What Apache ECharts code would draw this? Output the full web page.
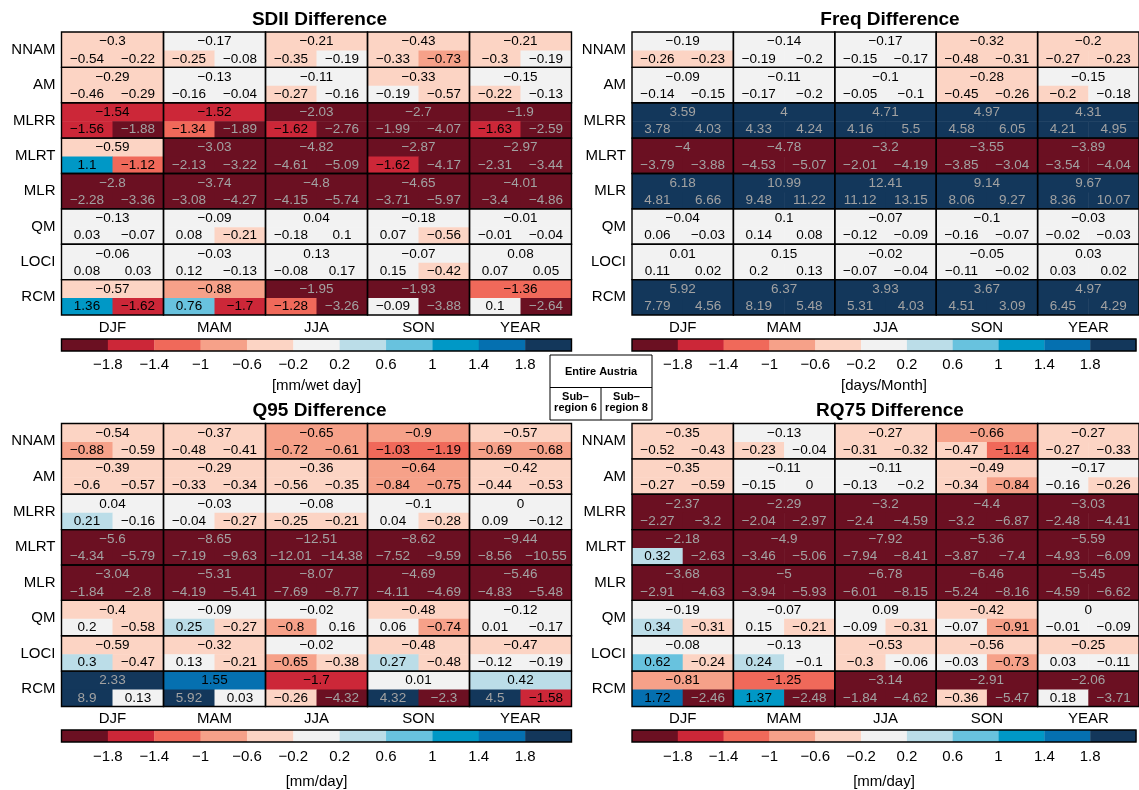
<!DOCTYPE html>
<html>
<head>
<meta charset="utf-8">
<script src="https://cdn.jsdelivr.net/npm/echarts@6/dist/echarts.min.js"></script>
<style>
  html, body { margin: 0; padding: 0; background: #fff; }
  #chart { width: 1139px; height: 790px; }
</style>
</head>
<body>
<div id="chart"></div>
<script>
// Categories
const seasons = ['DJF', 'MAM', 'JJA', 'SON', 'YEAR'];
const methods = ['NNAM', 'AM', 'MLRR', 'MLRT', 'MLR', 'QM', 'LOCI', 'RCM'];

// Colour classes and their boundaries (tick labels of the colour bars)
const breaks = [-1.8, -1.4, -1, -0.6, -0.2, 0.2, 0.6, 1, 1.4, 1.8];
const palette = ['#6b1022', '#cc2738', '#f0695a', '#f6a189', '#fcd4c4', '#f2f2f2',
                 '#bbdde8', '#68c2de', '#0098c6', '#0570b0', '#13375b'];

// SDII difference [mm/wet day]: entire Austria, sub-region 6, sub-region 8
const sdiiAll = [
  [-0.3, -0.17, -0.21, -0.43, -0.21],
  [-0.29, -0.13, -0.11, -0.33, -0.15],
  [-1.54, -1.52, -2.03, -2.7, -1.9],
  [-0.59, -3.03, -4.82, -2.87, -2.97],
  [-2.8, -3.74, -4.8, -4.65, -4.01],
  [-0.13, -0.09, 0.04, -0.18, -0.01],
  [-0.06, -0.03, 0.13, -0.07, 0.08],
  [-0.57, -0.88, -1.95, -1.93, -1.36]
];
const sdiiSub6 = [
  [-0.54, -0.25, -0.35, -0.33, -0.3],
  [-0.46, -0.16, -0.27, -0.19, -0.22],
  [-1.56, -1.34, -1.62, -1.99, -1.63],
  [1.1, -2.13, -4.61, -1.62, -2.31],
  [-2.28, -3.08, -4.15, -3.71, -3.4],
  [0.03, 0.08, -0.18, 0.07, -0.01],
  [0.08, 0.12, -0.08, 0.15, 0.07],
  [1.36, 0.76, -1.28, -0.09, 0.1]
];
const sdiiSub8 = [
  [-0.22, -0.08, -0.19, -0.73, -0.19],
  [-0.29, -0.04, -0.16, -0.57, -0.13],
  [-1.88, -1.89, -2.76, -4.07, -2.59],
  [-1.12, -3.22, -5.09, -4.17, -3.44],
  [-3.36, -4.27, -5.74, -5.97, -4.86],
  [-0.07, -0.21, 0.1, -0.56, -0.04],
  [0.03, -0.13, 0.17, -0.42, 0.05],
  [-1.62, -1.7, -3.26, -3.88, -2.64]
];

// Wet-day frequency difference [days/Month]
const freqAll = [
  [-0.19, -0.14, -0.17, -0.32, -0.204],
  [-0.09, -0.11, -0.1, -0.28, -0.15],
  [3.59, 4, 4.71, 4.97, 4.31],
  [-4, -4.78, -3.2, -3.55, -3.89],
  [6.18, 10.99, 12.41, 9.14, 9.67],
  [-0.04, 0.1, -0.07, -0.1, -0.03],
  [0.01, 0.15, -0.02, -0.05, 0.03],
  [5.92, 6.37, 3.93, 3.67, 4.97]
];
const freqSub6 = [
  [-0.26, -0.19, -0.15, -0.48, -0.27],
  [-0.14, -0.17, -0.05, -0.45, -0.204],
  [3.78, 4.33, 4.16, 4.58, 4.21],
  [-3.79, -4.53, -2.01, -3.85, -3.54],
  [4.81, 9.48, 11.12, 8.06, 8.36],
  [0.06, 0.14, -0.12, -0.16, -0.02],
  [0.11, 0.2, -0.07, -0.11, 0.03],
  [7.79, 8.19, 5.31, 4.51, 6.45]
];
const freqSub8 = [
  [-0.23, -0.2, -0.17, -0.31, -0.23],
  [-0.15, -0.2, -0.1, -0.26, -0.18],
  [4.03, 4.24, 5.5, 6.05, 4.95],
  [-3.88, -5.07, -4.19, -3.04, -4.04],
  [6.66, 11.22, 13.15, 9.27, 10.07],
  [-0.03, 0.08, -0.09, -0.07, -0.03],
  [0.02, 0.13, -0.04, -0.02, 0.02],
  [4.56, 5.48, 4.03, 3.09, 4.29]
];

// Q95 difference [mm/day]
const q95All = [
  [-0.54, -0.37, -0.65, -0.9, -0.57],
  [-0.39, -0.29, -0.36, -0.64, -0.42],
  [0.04, -0.03, -0.08, -0.1, 0],
  [-5.6, -8.65, -12.51, -8.62, -9.44],
  [-3.04, -5.31, -8.07, -4.69, -5.46],
  [-0.4, -0.09, -0.02, -0.48, -0.12],
  [-0.59, -0.32, -0.02, -0.48, -0.47],
  [2.33, 1.55, -1.7, 0.01, 0.42]
];
const q95Sub6 = [
  [-0.88, -0.48, -0.72, -1.03, -0.69],
  [-0.6, -0.33, -0.56, -0.84, -0.44],
  [0.21, -0.04, -0.25, 0.04, 0.09],
  [-4.34, -7.19, -12.01, -7.52, -8.56],
  [-1.84, -4.19, -7.69, -4.11, -4.83],
  [0.2, 0.25, -0.8, 0.06, 0.01],
  [0.3, 0.13, -0.65, 0.27, -0.12],
  [8.9, 5.92, -0.26, 4.32, 4.5]
];
const q95Sub8 = [
  [-0.59, -0.41, -0.61, -1.19, -0.68],
  [-0.57, -0.34, -0.35, -0.75, -0.53],
  [-0.16, -0.27, -0.21, -0.28, -0.12],
  [-5.79, -9.63, -14.38, -9.59, -10.55],
  [-2.8, -5.41, -8.77, -4.69, -5.48],
  [-0.58, -0.27, 0.16, -0.74, -0.17],
  [-0.47, -0.21, -0.38, -0.48, -0.19],
  [0.13, 0.03, -4.32, -2.3, -1.58]
];

// RQ75 difference [mm/day]
const rq75All = [
  [-0.35, -0.13, -0.27, -0.66, -0.27],
  [-0.35, -0.11, -0.11, -0.49, -0.17],
  [-2.37, -2.29, -3.2, -4.4, -3.03],
  [-2.18, -4.9, -7.92, -5.36, -5.59],
  [-3.68, -5, -6.78, -6.46, -5.45],
  [-0.19, -0.07, 0.09, -0.42, 0],
  [-0.08, -0.13, -0.53, -0.56, -0.25],
  [-0.81, -1.25, -3.14, -2.91, -2.06]
];
const rq75Sub6 = [
  [-0.52, -0.23, -0.31, -0.47, -0.27],
  [-0.27, -0.15, -0.13, -0.34, -0.16],
  [-2.27, -2.04, -2.4, -3.2, -2.48],
  [0.32, -3.46, -7.94, -3.87, -4.93],
  [-2.91, -3.94, -6.01, -5.24, -4.59],
  [0.34, 0.15, -0.09, -0.07, -0.01],
  [0.62, 0.24, -0.3, -0.03, 0.03],
  [1.72, 1.37, -1.84, -0.36, 0.18]
];
const rq75Sub8 = [
  [-0.43, -0.04, -0.32, -1.14, -0.33],
  [-0.59, 0, -0.2, -0.84, -0.26],
  [-3.2, -2.97, -4.59, -6.87, -4.41],
  [-2.63, -5.06, -8.41, -7.4, -6.09],
  [-4.63, -5.93, -8.15, -8.16, -6.62],
  [-0.31, -0.21, -0.31, -0.91, -0.09],
  [-0.24, -0.1, -0.06, -0.73, -0.11],
  [-2.46, -2.48, -4.62, -5.47, -3.71]
];

const panels = [
  { title: 'SDII Difference', unit: '[mm/wet day]', all: sdiiAll, s6: sdiiSub6, s8: sdiiSub8 },
  { title: 'Freq Difference', unit: '[days/Month]', all: freqAll, s6: freqSub6, s8: freqSub8 },
  { title: 'Q95 Difference', unit: '[mm/day]', all: q95All, s6: q95Sub6, s8: q95Sub8 },
  { title: 'RQ75 Difference', unit: '[mm/day]', all: rq75All, s6: rq75Sub6, s8: rq75Sub8 }
];

// Panel geometry: table box, colour-bar top and unit-label gap
const layout = [
  { left: 61.5, top: 32, width: 510, height: 283, cbTop: 339, unitGap: 27, tickMargin: 6 },
  { left: 632, top: 32, width: 510, height: 283, cbTop: 339, unitGap: 27, tickMargin: 6 },
  { left: 61.5, top: 423.5, width: 510, height: 283, cbTop: 730, unitGap: 32, tickMargin: 7 },
  { left: 632, top: 423.5, width: 510, height: 283, cbTop: 730, unitGap: 32, tickMargin: 7 }
];

const FONT = '"Liberation Sans", Arial, Helvetica, sans-serif';

// Class index: boundary values fall into the class closer to zero
function classOf(v) {
  if (v < -0.2) {
    let k = 0;
    while (k < 4 && v >= breaks[k]) k++;
    return k;
  }
  if (v > 0.2) {
    let k = 10;
    while (k > 6 && v <= breaks[k - 1]) k--;
    return k;
  }
  return 5;
}
function colorOf(v) { return palette[classOf(v)]; }
function textColorOf(v) {
  const k = classOf(v);
  return (k === 0 || k === 10) ? '#a2a2a2' : '#000';
}
function fmt(v) {
  const r = Math.round(v * 100) / 100;
  return String(r === 0 ? 0 : r).replace('-', '\u2212');
}

function renderCell(params, api) {
  const c = api.coord([api.value(0), api.value(1)]);
  const s = api.size([1, 1]);
  const w = s[0], h = s[1];
  const x0 = c[0] - w / 2, y0 = c[1] - h / 2;
  const ht = h * 0.52;
  const a = api.value(2), b = api.value(3), d = api.value(4);
  const txt = (val, x, y) => ({
    type: 'text', z2: 5,
    style: { text: fmt(val), x: x, y: y, align: 'center', verticalAlign: 'middle',
             fill: textColorOf(val), font: '13.5px ' + FONT }
  });
  return {
    type: 'group',
    children: [
      { type: 'rect', shape: { x: x0, y: y0, width: w, height: ht + 0.5 }, style: { fill: colorOf(a) } },
      { type: 'rect', shape: { x: x0, y: y0 + ht, width: w / 2 + 0.5, height: h - ht }, style: { fill: colorOf(b) } },
      { type: 'rect', shape: { x: x0 + w / 2, y: y0 + ht, width: w / 2, height: h - ht }, style: { fill: colorOf(d) } },
      txt(a, x0 + w / 2, y0 + h * 0.27),
      txt(b, x0 + w / 4, y0 + h * 0.76),
      txt(d, x0 + 3 * w / 4, y0 + h * 0.76),
      { type: 'rect', z2: 10, shape: { x: x0, y: y0, width: w, height: h },
        style: { fill: 'none', stroke: '#000', lineWidth: 1.4 } }
    ]
  };
}

function renderSwatch(params, api) {
  const i = api.value(0);
  const p0 = api.coord([i, 1]);
  const p1 = api.coord([i + 1, 0]);
  return {
    type: 'rect',
    shape: { x: p0[0], y: p0[1], width: p1[0] - p0[0] + 0.3, height: p1[1] - p0[1] },
    style: { fill: palette[api.value(1)] }
  };
}

function renderOutline(params, api) {
  const p0 = api.coord([0, 1]);
  const p1 = api.coord([11, 0]);
  return {
    type: 'rect', z2: 10,
    shape: { x: p0[0], y: p0[1], width: p1[0] - p0[0], height: p1[1] - p0[1] },
    style: { fill: 'none', stroke: '#000', lineWidth: 1.4 }
  };
}

const grid = [], xAxis = [], yAxis = [], series = [], title = [];

panels.forEach((p, i) => {
  const L = layout[i];
  title.push({
    text: p.title, left: L.left + L.width / 2 - 2, top: L.top - 27, textAlign: 'center',
    textStyle: { fontSize: 19, fontWeight: 'bold', color: '#000', fontFamily: FONT }
  });

  // table
  grid.push({ left: L.left, top: L.top, width: L.width, height: L.height });
  xAxis.push({
    gridIndex: 2 * i, type: 'category', data: seasons,
    axisLine: { show: false }, axisTick: { show: false }, splitLine: { show: false },
    axisLabel: { fontSize: 15, color: '#000', margin: 5, fontFamily: FONT }
  });
  yAxis.push({
    gridIndex: 2 * i, type: 'category', data: methods, inverse: true,
    axisLine: { show: false }, axisTick: { show: false }, splitLine: { show: false },
    axisLabel: { fontSize: 15, color: '#000', margin: 6, fontFamily: FONT }
  });
  const cells = [];
  for (let r = 0; r < methods.length; r++) {
    for (let c = 0; c < seasons.length; c++) {
      cells.push([c, r, p.all[r][c], p.s6[r][c], p.s8[r][c]]);
    }
  }
  series.push({
    type: 'custom', xAxisIndex: 2 * i, yAxisIndex: 2 * i,
    renderItem: renderCell, data: cells, silent: true, animation: false
  });

  // colour bar
  grid.push({ left: L.left, top: L.cbTop, width: L.width, height: 12 });
  xAxis.push({
    gridIndex: 2 * i + 1, type: 'value', min: 0, max: 11, interval: 1,
    axisLine: { show: false }, axisTick: { show: false }, splitLine: { show: false },
    axisLabel: {
      fontSize: 15, color: '#000', margin: L.tickMargin, fontFamily: FONT,
      formatter: v => (v >= 1 && v <= 10) ? fmt(breaks[v - 1]) : ''
    },
    name: p.unit, nameLocation: 'middle', nameGap: L.unitGap,
    nameTextStyle: { fontSize: 15, color: '#000', fontFamily: FONT }
  });
  yAxis.push({ gridIndex: 2 * i + 1, type: 'value', min: 0, max: 1, show: false });
  series.push({
    type: 'custom', xAxisIndex: 2 * i + 1, yAxisIndex: 2 * i + 1,
    renderItem: renderSwatch, data: palette.map((_, k) => [k, k]),
    silent: true, animation: false
  });
  series.push({
    type: 'custom', xAxisIndex: 2 * i + 1, yAxisIndex: 2 * i + 1,
    renderItem: renderOutline, data: [[0]], silent: true, animation: false, z: 3
  });
});

// Key explaining the cell layout
const key = { x: 550, y: 355, w: 102, h: 65 };
const keyFont = 'bold 11px ' + FONT;
const graphic = [
  { type: 'rect', shape: { x: key.x, y: key.y, width: key.w, height: key.h },
    style: { fill: '#fff', stroke: '#000', lineWidth: 1 } },
  { type: 'line', shape: { x1: key.x, y1: key.y + 32.5, x2: key.x + key.w, y2: key.y + 32.5 },
    style: { stroke: '#000', lineWidth: 1 } },
  { type: 'line', shape: { x1: key.x + key.w / 2, y1: key.y + 32.5, x2: key.x + key.w / 2, y2: key.y + key.h },
    style: { stroke: '#000', lineWidth: 1 } },
  { type: 'text', style: { text: 'Entire Austria', x: key.x + key.w / 2, y: key.y + 16.5,
    align: 'center', verticalAlign: 'middle', font: keyFont, fill: '#000' } },
  { type: 'text', style: { text: 'Sub\u2013\nregion 6', x: key.x + key.w / 4, y: key.y + 47,
    align: 'center', verticalAlign: 'middle', font: keyFont, fill: '#000', lineHeight: 11 } },
  { type: 'text', style: { text: 'Sub\u2013\nregion 8', x: key.x + 3 * key.w / 4, y: key.y + 47,
    align: 'center', verticalAlign: 'middle', font: keyFont, fill: '#000', lineHeight: 11 } }
];

const chart = echarts.init(document.getElementById('chart'), null, { renderer: 'canvas' });
chart.setOption({
  backgroundColor: '#fff',
  animation: false,
  textStyle: { fontFamily: FONT },
  title: title,
  grid: grid,
  xAxis: xAxis,
  yAxis: yAxis,
  series: series,
  graphic: graphic
});
</script>
</body>
</html>
